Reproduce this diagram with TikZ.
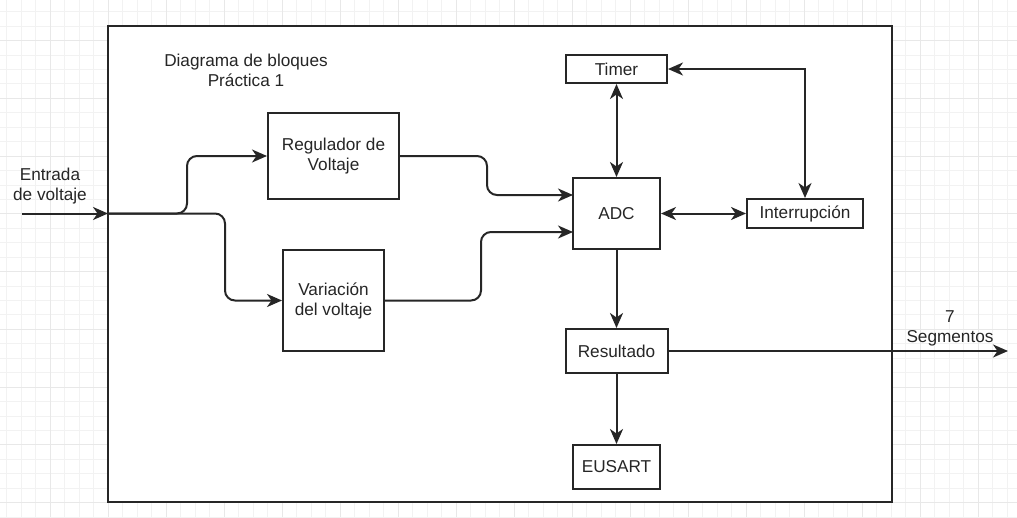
\documentclass[tikz,border=0pt]{standalone}
\usepackage{fontspec}
\setmainfont{Liberation Sans}
\usetikzlibrary{arrows.meta,calc}
\begin{document}
\begin{tikzpicture}[x=1pt,y=-1pt,
  font=\fontsize{17.2}{20}\selectfont,
  minorgrid/.style={draw=black!5,line width=0.7pt},
  majorgrid/.style={draw=black!9,line width=0.8pt},
  box/.style={draw=black!85,line width=2pt,fill=white,inner sep=0pt,align=center,text=black!85},
  wire/.style={draw=black!85,line width=2pt},
  tip/.style={},
  arr/.style={wire,-{Stealth[length=15pt,width=13pt,inset=4.5pt]}},
  barr/.style={wire,{Stealth[length=15pt,width=13pt,inset=4.5pt]}-{Stealth[length=15pt,width=13pt,inset=4.5pt]}},
  lbl/.style={align=center,text=black!85,inner sep=0pt}]
\useasboundingbox (0,0) rectangle (1017,517);
\fill[white] (0,0) rectangle (1017,517);
\begin{scope}
\clip (0,0) rectangle (1017,517);
\foreach \i in {-4,...,67} {\draw[minorgrid] ({50+14.5*\i},0) -- ({50+14.5*\i},517);}
\foreach \j in {-3,...,33} {\draw[minorgrid] (0,{40.5+14.4375*\j}) -- (1017,{40.5+14.4375*\j});}
\foreach \i in {-1,...,17} {\draw[majorgrid] ({50+58*\i},0) -- ({50+58*\i},517);}
\foreach \j in {-1,...,8} {\draw[majorgrid] (0,{40.5+57.75*\j}) -- (1017,{40.5+57.75*\j});}
\end{scope}
% frame
\node[box,minimum width=784pt,minimum height=476pt] (frame) at (500,264) {};
% title
\node[lbl] (title) at (246,70) {Diagrama de bloques\\Práctica 1};
% blocks
\node[box,minimum width=131pt,minimum height=86pt] (reg) at (333.5,156) {Regulador de\\Voltaje};
\node[box,minimum width=101pt,minimum height=101pt] (var) at (333.5,300.5) {Variación\\del voltaje};
\node[box,minimum width=101pt,minimum height=28pt] (timer) at (616.5,69) {Timer};
\node[box,minimum width=87pt,minimum height=71pt] (adc) at (616.5,213.5) {ADC};
\node[box,minimum width=116pt,minimum height=29pt] (intr) at (805,213.5) {Interrupción};
\node[box,minimum width=102pt,minimum height=44pt] (res) at (616.5,351) {Resultado};
\node[box,minimum width=87pt,minimum height=44pt] (eus) at (616.5,467) {EUSART};
% labels
\node[lbl] (inlbl) at (50,186) {Entrada\\de voltaje};
\node[lbl] (outlbl) at (950,328) {7\\Segmentos};
% coordinates
\coordinate (in) at (22,213.5);
\coordinate (split) at (108,213.5);
\coordinate (adcin1) at (573,195);
\coordinate (adcin2) at (573,232);
\coordinate (out) at (1008,351);
% connectors
\draw[arr] (in) -- (split);
\draw[arr,rounded corners=10pt] (split) -- ++(79,0) |- (reg.west);
\draw[arr,rounded corners=10pt] (split) -- ++(117,0) |- (var.west);
\draw[arr,rounded corners=10pt] (reg.east) -- ++(87,0) |- (adcin1);
\draw[arr,rounded corners=10pt] (var.east) -- ++(96,0) |- (adcin2);
\draw[barr] (timer.south) -- (adc.north);
\draw[barr] (timer.east) -| (intr.north);
\draw[barr] (adc.east) -- (intr.west);
\draw[arr] (adc.south) -- (res.north);
\draw[arr] (res.south) -- (eus.north);
\draw[arr] (res.east) -- (out);
\end{tikzpicture}
\end{document}
